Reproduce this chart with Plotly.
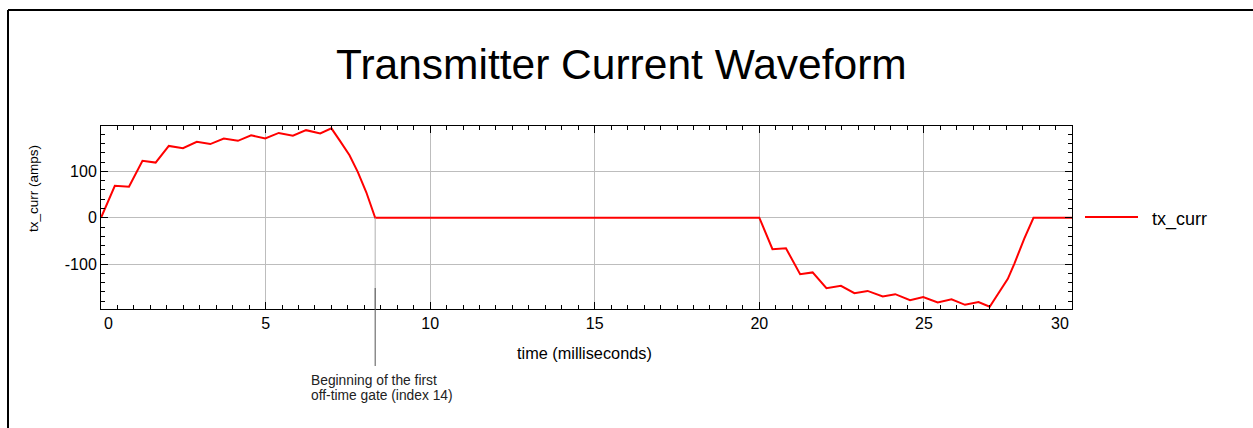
import plotly.graph_objects as go

# ---- data ----
time_ms = [0.0, 0.42, 0.85, 1.26, 1.66, 2.06, 2.49, 2.91, 3.32, 3.73, 4.16, 4.56,
           4.99, 5.40, 5.83, 6.23, 6.66, 7.00, 7.25, 7.55, 7.80, 8.06, 8.33,
           20.0, 20.40, 20.81, 21.24, 21.62, 22.04, 22.48, 22.89, 23.29, 23.75,
           24.13, 24.58, 24.98, 25.42, 25.84, 26.25, 26.66, 27.00, 27.29, 27.55,
           27.75, 28.05, 28.33, 29.5]
tx_curr = [0, 69, 67, 123, 119, 155, 150, 164, 159, 171, 166, 178,
           171, 183, 177, 189, 182, 193, 167, 135, 99, 55, 0,
           0, -68, -66, -122, -118, -152, -147, -163, -158, -170,
           -165, -178, -171, -183, -176, -188, -182, -192, -160, -132,
           -99, -45, 0, 0]
x_ticks = [0, 5, 10, 15, 20, 25]
x_tick_text = ["", "5", "10", "15", "20", "25"]
y_ticks = [-100, 0, 100]
y_tick_text = ["-100", "0", "100"]
gate_time = 8.33

FONT = "Liberation Sans, Arial, sans-serif"

# plot-area geometry in pixels
W, H = 1253, 428
L, R, T, B = 101, 1072, 126, 309
pw, ph = R - L, B - T


def px(x):
    return (x - L) / pw


def py(y):
    return (B - y) / ph


fig = go.Figure()
fig.add_trace(go.Scatter(x=time_ms, y=tx_curr, mode="lines", name="tx_curr",
                         line=dict(color="#ff0000", width=2), showlegend=False))

fig.update_layout(
    width=W, height=H,
    margin=dict(l=L, r=W - R, t=T, b=H - B, autoexpand=False),
    paper_bgcolor="white", plot_bgcolor="white",
    font=dict(family=FONT, color="black"),
    xaxis=dict(range=[0, 29.5], tickmode="array", tickvals=x_ticks, ticktext=x_tick_text,
               ticks="inside", ticklen=7, tickcolor="black", tickwidth=1,
               showline=True, linecolor="black", linewidth=1, mirror="allticks",
               showgrid=True, gridcolor="#bdbdbd", gridwidth=1, zeroline=False,
               tickfont=dict(size=16, family=FONT),
               minor=dict(tickmode="linear", tick0=0, dtick=0.5, ticks="inside",
                          ticklen=4, tickcolor="black", showgrid=False)),
    yaxis=dict(range=[-197, 198], tickmode="array", tickvals=y_ticks, ticktext=y_tick_text,
               ticks="inside", ticklen=7, tickcolor="black", tickwidth=1,
               showline=True, linecolor="black", linewidth=1, mirror="allticks",
               showgrid=True, gridcolor="#bdbdbd", gridwidth=1, zeroline=False,
               tickfont=dict(size=16, family=FONT),
               minor=dict(tickmode="linear", tick0=0, dtick=20, ticks="inside",
                          ticklen=4, tickcolor="black", showgrid=False)),
)

shapes = []
# outer frame (top and left edges visible)
shapes.append(dict(type="line", xref="paper", yref="paper", x0=px(8), x1=px(W + 5),
                   y0=py(10), y1=py(10), line=dict(color="black", width=2)))
shapes.append(dict(type="line", xref="paper", yref="paper", x0=px(8), x1=px(8),
                   y0=py(10), y1=py(H + 5), line=dict(color="black", width=2)))
# gate marker
shapes.append(dict(type="line", xref="x", yref="y", x0=gate_time, x1=gate_time,
                   y0=0, y1=-197, line=dict(color="#b0b0b0", width=1)))
shapes.append(dict(type="line", xref="x", yref="paper", x0=gate_time, x1=gate_time,
                   y0=py(288), y1=py(366), line=dict(color="#555555", width=1)))
# legend sample line
shapes.append(dict(type="line", xref="paper", yref="paper", x0=px(1085), x1=px(1138),
                   y0=py(217), y1=py(217), line=dict(color="#ff0000", width=2)))
fig.update_layout(shapes=shapes)

ann = []
ann.append(dict(text="Transmitter Current Waveform", xref="paper", yref="paper",
                x=px(621), y=py(64), xanchor="center", yanchor="middle", showarrow=False,
                font=dict(size=42.5, family=FONT, color="black")))
ann.append(dict(text="tx_curr (amps)", xref="paper", yref="paper", textangle=-90,
                x=px(33), y=py(189), xanchor="center", yanchor="middle", showarrow=False,
                font=dict(size=13.5, family=FONT, color="black")))
ann.append(dict(text="time (milliseconds)", xref="paper", yref="paper",
                x=px(584), y=py(353), xanchor="center", yanchor="middle", showarrow=False,
                font=dict(size=16.3, family=FONT, color="black")))
ann.append(dict(text="0", xref="paper", yref="paper",
                x=px(108), y=py(323), xanchor="center", yanchor="middle", showarrow=False,
                font=dict(size=16, family=FONT, color="black")))
ann.append(dict(text="30", xref="paper", yref="paper",
                x=px(1060), y=py(323), xanchor="center", yanchor="middle", showarrow=False,
                font=dict(size=16, family=FONT, color="black")))
ann.append(dict(text="tx_curr", xref="paper", yref="paper",
                x=px(1150), y=py(219), xanchor="left", yanchor="middle", showarrow=False,
                font=dict(size=18, family=FONT, color="black")))
ann.append(dict(text="Beginning of the first", xref="paper", yref="paper",
                x=px(309), y=py(380), xanchor="left", yanchor="middle", align="left", showarrow=False,
                font=dict(size=13.8, family=FONT, color="#222222")))
ann.append(dict(text="off-time gate (index 14)", xref="paper", yref="paper",
                x=px(309), y=py(395), xanchor="left", yanchor="middle", align="left", showarrow=False,
                font=dict(size=13.8, family=FONT, color="#222222")))
fig.update_layout(annotations=ann)

fig.write_html("out.html")
